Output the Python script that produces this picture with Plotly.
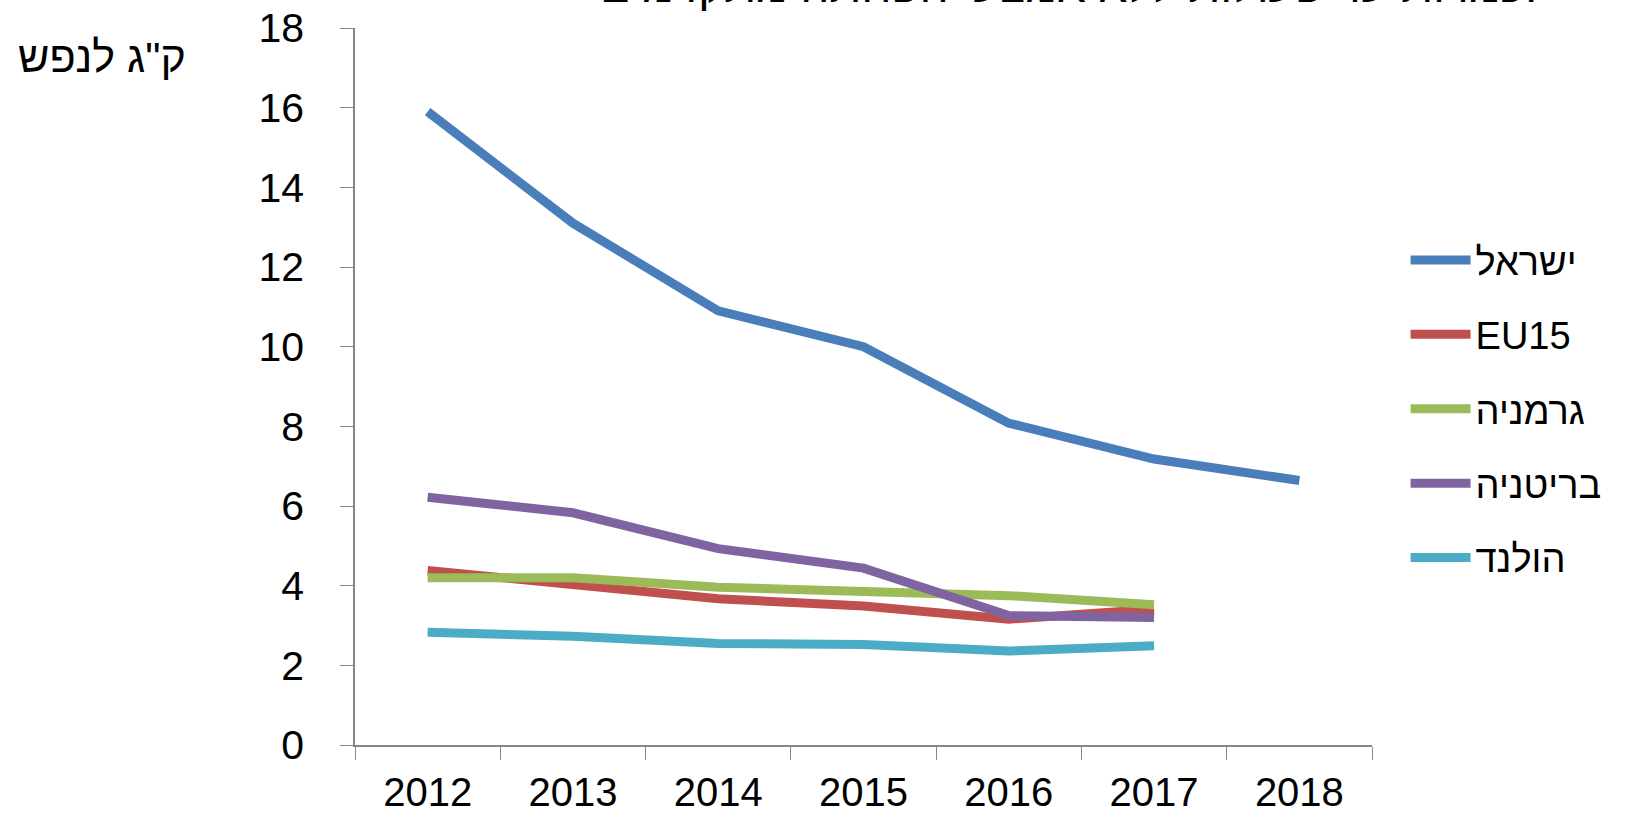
import plotly.graph_objects as go

years = ["2012", "2013", "2014", "2015", "2016", "2017", "2018"]
israel = [15.9, 13.1, 10.9, 10.0, 8.08, 7.18, 6.64]
eu15 = [4.38, 4.04, 3.67, 3.49, 3.16, 3.41]
germany = [4.2, 4.2, 3.96, 3.86, 3.75, 3.52]
britain = [6.22, 5.83, 4.93, 4.44, 3.25, 3.2]
holland = [2.83, 2.73, 2.55, 2.52, 2.36, 2.49]

names = ["ישראל", "EU15", "גרמניה", "בריטניה", "הולנד"]
series = [israel, eu15, germany, britain, holland]
colors = ["#4A7EBB", "#C0504D", "#9BBB59", "#8064A2", "#4BACC6"]

y_title = 'ק"ג לנפש'
chart_title = "כמויות עד פעולות ללא אמצעי הפחתה מתקדמים."

FONT = "Liberation Sans"

fig = go.Figure()
for i, (n, s, c) in enumerate(zip(names, series, colors)):
    fig.add_trace(go.Scatter(
        x=years[:len(s)], y=s, name=n, mode="lines",
        line=dict(color=c, width=9), legendgroup=f"g{i}",
    ))

fig.update_layout(
    width=1639, height=817,
    margin=dict(l=355, r=267, t=28, b=72, autoexpand=False),
    paper_bgcolor="white", plot_bgcolor="white",
    font=dict(family=FONT, size=40, color="black"),
    showlegend=True,
    legend=dict(x=1.033, y=0.72, xanchor="left", yanchor="top",
                font=dict(family=FONT, size=38), tracegroupgap=22,
                itemwidth=60, bgcolor="rgba(0,0,0,0)"),
    xaxis=dict(type="category", categoryorder="array", categoryarray=years,
               tickson="boundaries", ticks="outside", ticklen=13, tickcolor="#868686",
               showline=True, linecolor="#868686", linewidth=1.5, showgrid=False,
               ticklabelstandoff=11, tickfont=dict(size=40), range=[-0.5, 6.5],
               automargin=False),
    yaxis=dict(range=[0, 18], dtick=2, ticks="outside", ticklen=13, tickcolor="#868686",
               showline=True, linecolor="#868686", linewidth=1.5, showgrid=False,
               zeroline=False, ticklabelstandoff=28, tickfont=dict(size=41),
               automargin=False),
    annotations=[
        dict(text=y_title, xref="paper", yref="paper", x=(188 - 355) / 1017, y=(745 - 57) / 717,
             xanchor="right", yanchor="middle", showarrow=False, font=dict(size=43)),
        dict(text=chart_title, xref="paper", yref="paper", x=(598 - 355) / 1017, y=(745 - 14) / 717,
             xanchor="left", yanchor="bottom", showarrow=False, font=dict(size=46)),
    ],
)

fig.write_html("out.html", config={"displayModeBar": False},
               post_script="document.body.style.margin='0';document.body.style.overflow='hidden';")
